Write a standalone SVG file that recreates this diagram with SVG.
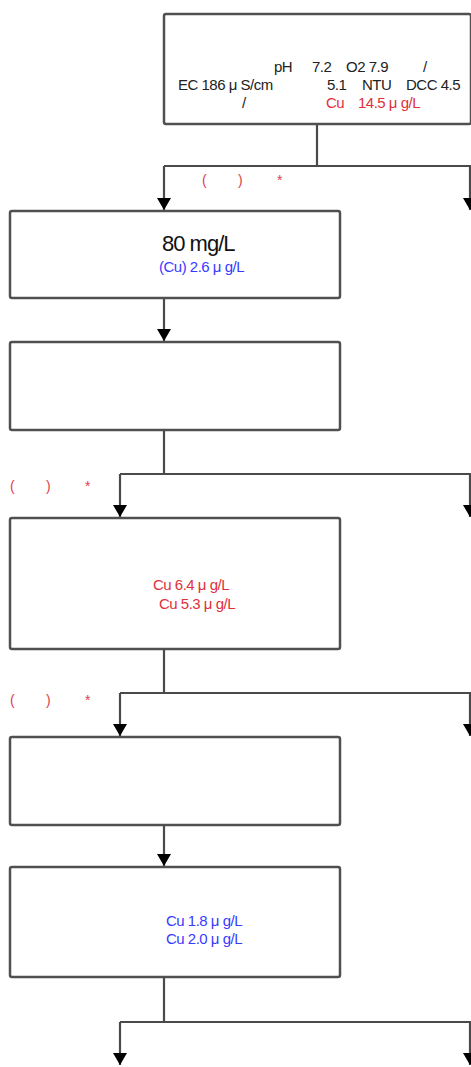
<svg xmlns="http://www.w3.org/2000/svg" width="471" height="1067" viewBox="0 0 471 1067">
<defs>
<style>
.box{fill:#fff;stroke:#505050;stroke-width:2.5}
.ln{fill:none;stroke:#4a4a4a;stroke-width:2.2}
.t{font-family:"Liberation Sans",Arial,sans-serif;font-size:15px;letter-spacing:-0.5px;fill:#222}
.r{fill:#e0303a}
.b{fill:#3a3aff}
.big{font-family:"Liberation Sans",Arial,sans-serif;font-size:22px;letter-spacing:-1px;fill:#111}
.lab{font-family:"Liberation Sans",Arial,sans-serif;font-size:14px;fill:#e04050}
</style>
<marker id="ah" viewBox="0 0 12 14" refX="12" refY="7" markerWidth="12" markerHeight="14" markerUnits="userSpaceOnUse" orient="auto">
<path d="M0,0 L12,7 L0,14 Z" fill="#000"/>
</marker>
</defs>
<rect width="471" height="1067" fill="#fff"/>
<g id="connectors">
<path class="ln" d="M317,124 V166 M164,166 H471"/>
<path class="ln" d="M164,166 V210" marker-end="url(#ah)"/>
<path class="ln" d="M470,166 V210" marker-end="url(#ah)"/>
<path class="ln" d="M164,298 V341" marker-end="url(#ah)"/>
<path class="ln" d="M164,430 V474 M120,474 H471"/>
<path class="ln" d="M120,474 V517" marker-end="url(#ah)"/>
<path class="ln" d="M470,474 V517" marker-end="url(#ah)"/>
<path class="ln" d="M164,649 V693 M120,693 H471"/>
<path class="ln" d="M120,693 V736" marker-end="url(#ah)"/>
<path class="ln" d="M470,693 V736" marker-end="url(#ah)"/>
<path class="ln" d="M164,825 V866" marker-end="url(#ah)"/>
<path class="ln" d="M164,977 V1022 M120,1022 H471"/>
<path class="ln" d="M120,1022 V1065" marker-end="url(#ah)"/>
<path class="ln" d="M470,1022 V1065" marker-end="url(#ah)"/>
</g>
<g id="labels">
<text class="lab" x="202" y="185">(</text>
<text class="lab" x="238" y="185">)</text>
<text class="lab" x="277" y="185">*</text>
<text class="lab" x="10" y="491">(</text>
<text class="lab" x="46" y="491">)</text>
<text class="lab" x="85" y="491">*</text>
<text class="lab" x="10" y="705">(</text>
<text class="lab" x="46" y="705">)</text>
<text class="lab" x="85" y="705">*</text>
</g>
<g id="node-source">
<rect class="box" x="164" y="14" width="307" height="110" rx="2"/>
<text class="t" x="274" y="72">pH</text>
<text class="t" x="312" y="72">7.2</text>
<text class="t" x="346" y="72">O2 7.9</text>
<text class="t" x="423" y="72">/</text>
<text class="t" x="178" y="90">EC 186 μ  S/cm</text>
<text class="t" x="327" y="90">5.1</text>
<text class="t" x="362" y="90">NTU</text>
<text class="t" x="406" y="90">DCC 4.5</text>
<text class="t" x="242" y="108">/</text>
<text class="t r" x="326" y="108">Cu</text>
<text class="t r" x="358" y="108">14.5 μ g/L</text>
</g>
<g id="node-2">
<rect class="box" x="10" y="211" width="330" height="87" rx="2"/>
<text class="big" x="162" y="251">80 mg/L</text>
<text class="t b" x="159" y="272">(Cu) 2.6 μ  g/L</text>
</g>
<g id="node-3">
<rect class="box" x="10" y="342" width="330" height="88" rx="2"/>
</g>
<g id="node-4">
<rect class="box" x="10" y="518" width="330" height="131" rx="2"/>
<text class="t r" x="153" y="590">Cu 6.4 μ  g/L</text>
<text class="t r" x="159" y="609">Cu 5.3 μ  g/L</text>
</g>
<g id="node-5">
<rect class="box" x="10" y="737" width="330" height="88" rx="2"/>
</g>
<g id="node-6">
<rect class="box" x="10" y="867" width="330" height="110" rx="2"/>
<text class="t b" x="166" y="926">Cu 1.8 μ  g/L</text>
<text class="t b" x="166" y="944">Cu 2.0 μ  g/L</text>
</g>
</svg>
